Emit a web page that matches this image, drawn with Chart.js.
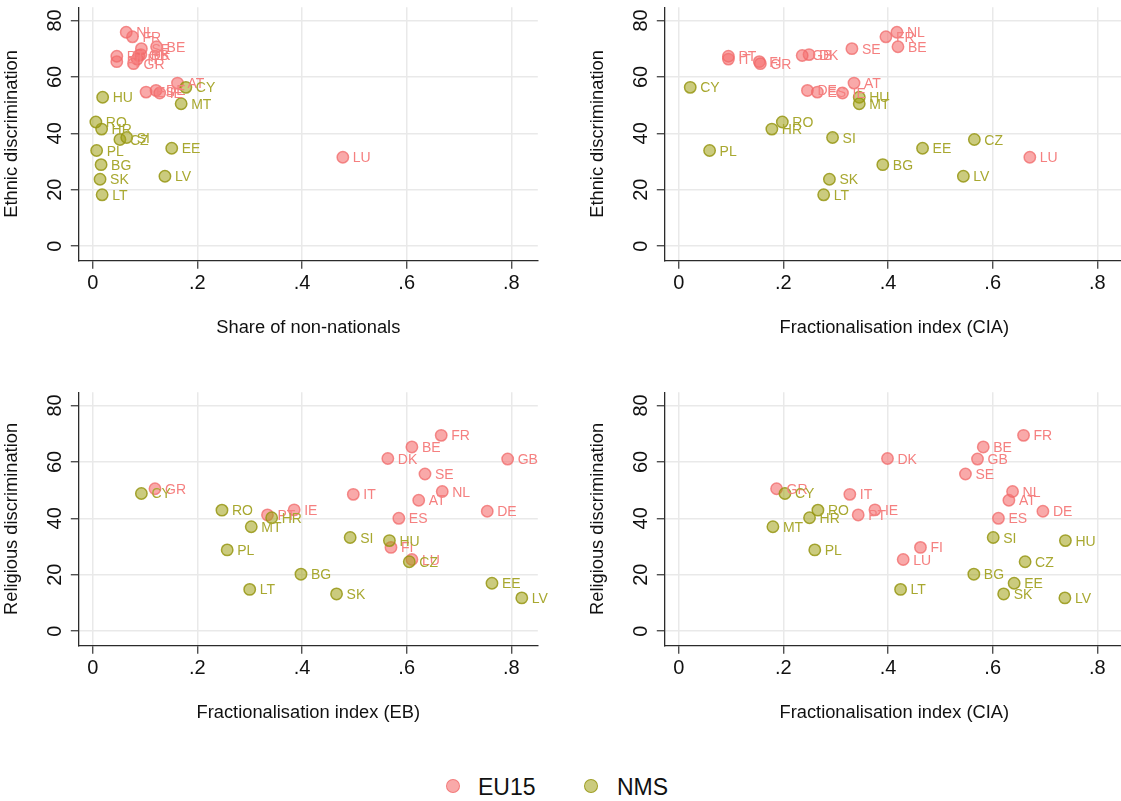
<!DOCTYPE html>
<html>
<head>
<meta charset="utf-8">
<title>Discrimination and diversity</title>
<script src="https://cdn.jsdelivr.net/npm/chart.js@4.4.1/dist/chart.umd.min.js"></script>
<style>
  html, body { margin: 0; padding: 0; background: #fff; overflow: hidden; }
  #wrap { position: relative; width: 1121px; height: 801px; overflow: hidden; background: #fff; }
  #wrap canvas { position: absolute; }
  .legend-item { position: absolute; top: 772px; height: 30px; line-height: 30px;
                 font-family: "Liberation Sans", Arial, sans-serif; font-size: 23px; color: #111; white-space: nowrap; }
  .legend-dot { position: absolute; width: 12px; height: 12px; border-radius: 50%; top: 779px; }
</style>
</head>
<body>
<div id="wrap">
  <canvas id="pEthShare"  width="560" height="385" style="left:0px;top:0px"></canvas>
  <canvas id="pEthCIA"    width="560" height="385" style="left:586px;top:0px"></canvas>
  <canvas id="pRelEB"     width="560" height="385" style="left:0px;top:385px"></canvas>
  <canvas id="pRelCIA"    width="560" height="385" style="left:586px;top:385px"></canvas>

  <div class="legend-dot" style="left:446px;background:rgba(245,112,112,0.6);border:1.5px solid rgba(240,105,105,0.75)"></div>
  <div class="legend-item" style="left:478px">EU15</div>
  <div class="legend-dot" style="left:584px;background:rgba(160,160,20,0.55);border:1.5px solid rgba(150,150,20,0.85)"></div>
  <div class="legend-item" style="left:617px">NMS</div>
</div>

<script>
// Country groups
const eu15Codes = ['AT','BE','DE','DK','ES','FI','FR','GB','GR','IE','IT','LU','NL','PT','SE'];
const nmsCodes  = ['BG','CY','CZ','EE','HR','HU','LT','LV','MT','PL','RO','SI','SK'];

// Perceived discrimination (% saying widespread)
const eu15Ethnic    = [57.8, 70.7, 55.2, 67.9, 54.6, 65.4, 74.2, 67.6, 64.7, 54.3, 66.3, 31.5, 75.8, 67.3, 70.0];
const nmsEthnic     = [28.9, 56.3, 37.8, 34.7, 41.5, 52.8, 18.2, 24.8, 50.5, 33.9, 44.0, 38.5, 23.7];
const eu15Religious = [46.4, 65.3, 42.5, 61.2, 40.0, 29.7, 69.4, 61.0, 50.5, 43.0, 48.5, 25.4, 49.5, 41.2, 55.7];
const nmsReligious  = [20.2, 48.8, 24.6, 17.0, 40.2, 32.1, 14.8, 11.8, 37.0, 28.8, 42.9, 33.2, 13.2];

// Diversity measures
const eu15NonNationals = [0.162, 0.122, 0.121, 0.092, 0.102, 0.046, 0.076, 0.088, 0.078, 0.128, 0.085, 0.478, 0.064, 0.046, 0.093];
const nmsNonNationals  = [0.016, 0.178, 0.052, 0.151, 0.017, 0.019, 0.018, 0.138, 0.169, 0.0075, 0.006, 0.065, 0.014];
const eu15EthnicFracCIA = [0.335, 0.419, 0.246, 0.249, 0.265, 0.154, 0.396, 0.236, 0.156, 0.313, 0.095, 0.671, 0.417, 0.095, 0.331];
const nmsEthnicFracCIA  = [0.390, 0.022, 0.565, 0.466, 0.178, 0.345, 0.277, 0.544, 0.345, 0.059, 0.198, 0.294, 0.288];
const eu15ReligFracEB  = [0.623, 0.610, 0.754, 0.564, 0.585, 0.570, 0.666, 0.793, 0.119, 0.385, 0.498, 0.610, 0.668, 0.334, 0.635];
const nmsReligFracEB   = [0.398, 0.093, 0.605, 0.763, 0.342, 0.567, 0.300, 0.820, 0.303, 0.257, 0.247, 0.492, 0.466];
const eu15ReligFracCIA = [0.631, 0.582, 0.696, 0.399, 0.611, 0.462, 0.659, 0.571, 0.187, 0.375, 0.327, 0.429, 0.638, 0.343, 0.548];
const nmsReligFracCIA  = [0.564, 0.203, 0.662, 0.641, 0.250, 0.739, 0.424, 0.738, 0.180, 0.260, 0.266, 0.601, 0.621];

// Axis ticks
const xTickValues = [0, 0.2, 0.4, 0.6, 0.8];
const xTickLabels = ['0', '.2', '.4', '.6', '.8'];
const yTickValues = [0, 20, 40, 60, 80];
const yTickLabels = ['0', '20', '40', '60', '80'];

const FONT = '"Liberation Sans", Arial, Helvetica, sans-serif';
Chart.defaults.font.family = FONT;

const EU_FILL = 'rgba(245,112,112,0.6)', EU_LINE = 'rgba(240,105,105,0.75)', EU_TEXT = 'rgb(245,128,128)';
const NMS_FILL = 'rgba(160,160,20,0.55)', NMS_LINE = 'rgba(150,150,20,0.85)', NMS_TEXT = 'rgb(168,168,48)';

function points(xs, ys) {
  return xs.map((x, i) => ({ x: x, y: ys[i] }));
}

// Rotated y tick labels and country-code marker labels
const panelText = {
  id: 'panelText',
  afterDatasetsDraw(chart) {
    const ctx = chart.ctx;
    ctx.save();
    ctx.font = '14px ' + FONT;
    ctx.textAlign = 'left';
    ctx.textBaseline = 'alphabetic';
    // EU15 first, NMS on top
    [1, 0].forEach(di => {
      const ds = chart.data.datasets[di];
      const meta = chart.getDatasetMeta(di);
      ctx.fillStyle = ds.labelColor;
      meta.data.forEach((pt, j) => {
        ctx.fillText(ds.codes[j], pt.x + 10, pt.y + 5);
      });
    });
    ctx.restore();
  },
  afterDraw(chart) {
    const ctx = chart.ctx;
    const ys = chart.scales.y;
    ctx.save();
    ctx.font = '20px ' + FONT;
    ctx.fillStyle = '#111';
    ctx.textAlign = 'center';
    ctx.textBaseline = 'alphabetic';
    yTickValues.forEach((v, i) => {
      const py = ys.getPixelForValue(v);
      ctx.save();
      ctx.translate(chart.chartArea.left - 18, py);
      ctx.rotate(-Math.PI / 2);
      ctx.fillText(yTickLabels[i], 0, 0);
      ctx.restore();
    });
    ctx.restore();
  }
};

function makePanel(id, xTitle, yTitle, euX, euY, nmsX, nmsY) {
  const grid = { color: '#e9e9e9', lineWidth: 1.5, tickColor: '#333', tickLength: 8, tickWidth: 1.2 };
  const border = { display: true, color: '#2b2b2b', width: 1.3 };
  return new Chart(document.getElementById(id), {
    type: 'scatter',
    data: {
      datasets: [
        { label: 'NMS', codes: nmsCodes, labelColor: NMS_TEXT, order: 1,
          data: points(nmsX, nmsY), backgroundColor: NMS_FILL, borderColor: NMS_LINE },
        { label: 'EU15', codes: eu15Codes, labelColor: EU_TEXT, order: 2,
          data: points(euX, euY), backgroundColor: EU_FILL, borderColor: EU_LINE }
      ]
    },
    options: {
      responsive: false,
      animation: false,
      devicePixelRatio: 1,
      events: [],
      layout: { padding: { top: 4, right: 22.2, bottom: 0, left: 0 } },
      elements: { point: { radius: 5.7, hoverRadius: 5.7, borderWidth: 1.5 } },
      plugins: { legend: { display: false }, tooltip: { enabled: false } },
      scales: {
        x: {
          type: 'linear', min: -0.0266, max: 0.8506,
          afterBuildTicks: s => { s.ticks = xTickValues.map(v => ({ value: v })); },
          afterFit: s => { s.height = 124.3; },
          ticks: { autoSkip: false, maxRotation: 0, minRotation: 0, padding: 3, color: '#111',
                   font: { size: 20 }, callback: v => xTickLabels[xTickValues.indexOf(v)] },
          grid: grid, border: border,
          title: { display: true, text: xTitle, color: '#111', font: { size: 18.3 }, padding: { top: 0, bottom: 46 } }
        },
        y: {
          type: 'linear', min: -5.15, max: 84.7,
          afterBuildTicks: s => { s.ticks = yTickValues.map(v => ({ value: v })); },
          afterFit: s => { s.width = 78.8; },
          ticks: { display: false },
          grid: grid, border: border,
          title: { display: true, text: yTitle, color: '#111', font: { size: 18.3 }, padding: { top: 1, bottom: 0 } }
        }
      }
    },
    plugins: [panelText]
  });
}

makePanel('pEthShare', 'Share of non-nationals', 'Ethnic discrimination',
          eu15NonNationals, eu15Ethnic, nmsNonNationals, nmsEthnic);
makePanel('pEthCIA', 'Fractionalisation index (CIA)', 'Ethnic discrimination',
          eu15EthnicFracCIA, eu15Ethnic, nmsEthnicFracCIA, nmsEthnic);
makePanel('pRelEB', 'Fractionalisation index (EB)', 'Religious discrimination',
          eu15ReligFracEB, eu15Religious, nmsReligFracEB, nmsReligious);
makePanel('pRelCIA', 'Fractionalisation index (CIA)', 'Religious discrimination',
          eu15ReligFracCIA, eu15Religious, nmsReligFracCIA, nmsReligious);
</script>
</body>
</html>
